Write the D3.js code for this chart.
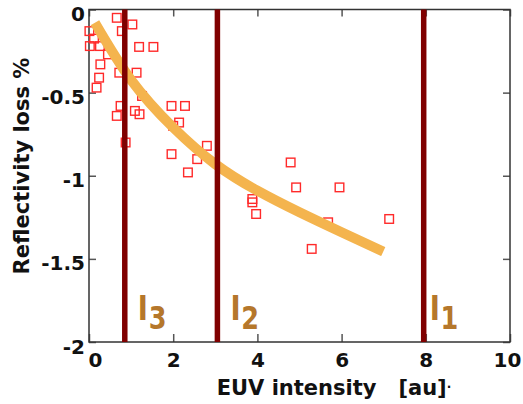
<!DOCTYPE html>
<html>
<head>
<meta charset="utf-8">
<script src="https://cdn.jsdelivr.net/npm/d3@7"></script>
<style>
  body { margin: 0; background: #fff; }
  text { font-family: "DejaVu Sans", sans-serif; font-weight: bold; }
</style>
</head>
<body>
<div id="chart"></div>
<script>
var w = 523,
	h = 404;

// measured points (EUV intensity, reflectivity loss %)
var ptX = [0.66, 1.03, 0.78, 0.01, 0.12, 0.02, 0.26, 0.45, 0.27, 0.24,
           0.18, 0.72, 1.13, 1.19, 1.53, 1.26, 0.75, 0.66, 1.09, 1.20,
           0.87, 1.96, 2.28, 2.14, 2.00, 1.96, 2.80, 2.57, 2.35, 4.79,
           4.92, 5.95, 3.88, 3.88, 3.97, 5.68, 5.29, 7.13];
var ptY = [-0.05, -0.09, -0.13, -0.13, -0.175, -0.22, -0.22, -0.27, -0.33, -0.41,
           -0.47, -0.38, -0.38, -0.225, -0.225, -0.52, -0.58, -0.64, -0.61, -0.63,
           -0.80, -0.58, -0.58, -0.68, -0.70, -0.87, -0.82, -0.90, -0.98, -0.92,
           -1.07, -1.07, -1.14, -1.16, -1.23, -1.28, -1.44, -1.26];

// fitted trend
var fitX = [0.14, 1, 2, 3, 4, 5, 6, 6.99];
var fitY = [-0.08, -0.424, -0.71, -0.93, -1.09, -1.22, -1.34, -1.456];

// intensity markers
var lineX = [7.95, 3.05, 0.85];
var lineSub = ["1", "2", "3"];

var xTicks = [0, 2, 4, 6, 8, 10];
var yTicks = [0, -0.5, -1, -1.5, -2];

var x = d3.scaleLinear().domain([0, 10]).range([89, 510]);
var y = d3.scaleLinear().domain([-2, 0]).range([342, 9.5]);

var svg = d3.select("#chart").append("svg")
	.attr("width", w)
	.attr("height", h);

svg.append("rect").attr("width", w).attr("height", h).attr("fill", "#fff");

//Axes with inward ticks
var gx = svg.append("g")
	.attr("transform", "translate(0," + y(-2) + ")")
	.call(d3.axisBottom(x).tickValues(xTicks).tickSize(-8).tickPadding(11).tickFormat(String));
gx.selectAll("text").filter(function(d){ return d === 0; }).attr("x", 6);
gx.selectAll("text").filter(function(d){ return d === 10; }).attr("x", -3);

var gt = svg.append("g")
	.attr("transform", "translate(0," + y(0) + ")")
	.call(d3.axisTop(x).tickValues(xTicks).tickSize(-7).tickFormat(""));

var gy = svg.append("g")
	.attr("transform", "translate(" + x(0) + ",0)")
	.call(d3.axisLeft(y).tickValues(yTicks).tickSize(-7).tickPadding(4).tickFormat(String));
gy.selectAll("text").attr("dy", "0.55em");

var gr = svg.append("g")
	.attr("transform", "translate(" + x(10) + ",0)")
	.call(d3.axisRight(y).tickValues(yTicks).tickSize(-7).tickFormat(""));

[gx, gt, gy, gr].forEach(function(g){
	g.select(".domain").remove();
	g.selectAll("line").attr("stroke", "#555").attr("stroke-width", 1.5);
	g.selectAll("text").attr("fill", "#111").attr("font-size", "20px")
	  .attr("font-family", "DejaVu Sans").attr("font-weight", "bold");
});

//Frame
svg.append("rect")
	.attr("x", x(0))
	.attr("y", y(0))
	.attr("width", x(10) - x(0))
	.attr("height", y(-2) - y(0))
	.attr("fill", "none")
	.attr("stroke", "#333")
	.attr("stroke-width", 1.5);

//Data markers
svg.append("g").selectAll("rect")
	.data(d3.range(ptX.length))
	.enter()
	.append("rect")
	.attr("x", function(i){ return x(ptX[i]) - 4.3; })
	.attr("y", function(i){ return y(ptY[i]) - 4.3; })
	.attr("width", 8.6)
	.attr("height", 8.6)
	.attr("fill", "none")
	.attr("stroke", "#ff2a2a")
	.attr("stroke-width", 1.4);

//Fit curve
var fitLine = d3.line()
	.x(function(i){ return x(fitX[i]); })
	.y(function(i){ return y(fitY[i]); })
	.curve(d3.curveNatural);

svg.append("path")
	.datum(d3.range(fitX.length))
	.attr("d", fitLine)
	.attr("fill", "none")
	.attr("stroke", "#f4b44e")
	.attr("stroke-width", 10);

//Vertical intensity lines
svg.append("g").selectAll("line")
	.data(lineX)
	.enter()
	.append("line")
	.attr("x1", function(d){ return x(d); })
	.attr("x2", function(d){ return x(d); })
	.attr("y1", y(0))
	.attr("y2", y(-2))
	.attr("stroke", "#800000")
	.attr("stroke-width", 5.5);

//Labels I1, I2, I3 (narrowed a bit like the original)
var lab = svg.append("g").selectAll("text")
	.data(d3.range(lineX.length))
	.enter()
	.append("text")
	.attr("transform", function(i){
		return "translate(" + (x(lineX[i]) + (i === 0 ? 6 : 13)) + ",320) scale(0.8,1)";
	})
	.attr("fill", "#b5772b")
	.attr("font-family", "Liberation Sans")
	.attr("font-size", "34px");
lab.append("tspan").text("I");
lab.append("tspan")
	.attr("dx", 1)
	.attr("dy", 9)
	.attr("font-size", "32px")
	.text(function(i){ return lineSub[i]; });

//Axis titles
var xt = svg.append("text")
	.attr("x", 334)
	.attr("y", 395)
	.attr("text-anchor", "middle")
	.attr("font-size", "21px")
	.attr("fill", "#111");
xt.append("tspan").text("EUV intensity\u00a0\u00a0\u00a0[au]");
xt.append("tspan").attr("font-size", "12px").attr("dy", -4).text("\u00b7");

svg.append("text")
	.attr("transform", "translate(29,166) rotate(-90)")
	.attr("text-anchor", "middle")
	.attr("font-size", "21px")
	.attr("fill", "#111")
	.text("Reflectivity loss %");
</script>
</body>
</html>
